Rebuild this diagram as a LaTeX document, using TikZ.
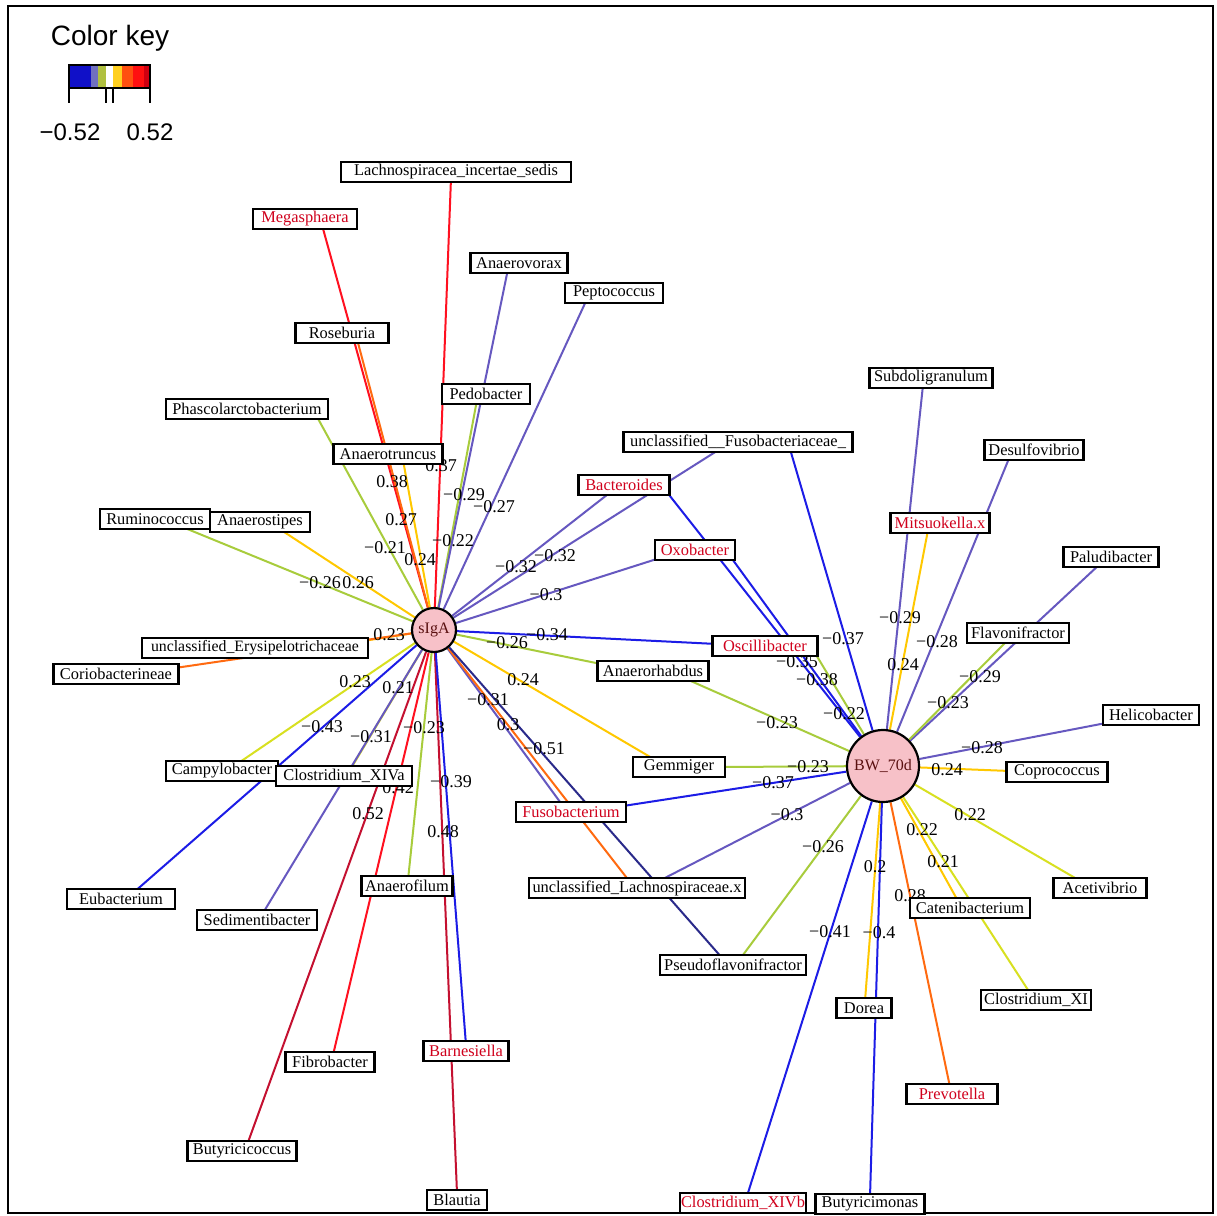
\documentclass[tikz,border=0pt]{standalone}
\usepackage{fontspec}
\setmainfont{Liberation Serif}
\newfontfamily\sansK{Liberation Sans}
\definecolor{cBlu}{HTML}{1C1CE6}
\definecolor{cNav}{HTML}{2A2A8A}
\definecolor{cSla}{HTML}{6658C0}
\definecolor{cOli}{HTML}{A8CC3C}
\definecolor{cLem}{HTML}{D8E020}
\definecolor{cGol}{HTML}{FFC800}
\definecolor{cOra}{HTML}{FF6A10}
\definecolor{cRed}{HTML}{FF1020}
\definecolor{cCri}{HTML}{C41030}
\definecolor{cPink}{HTML}{F7C1C8}
\definecolor{cTxtRed}{HTML}{D0001C}
\definecolor{cHubTxt}{HTML}{5A1010}
\definecolor{k1}{HTML}{1010C8}
\definecolor{k2}{HTML}{7070C0}
\definecolor{k3}{HTML}{B0C040}
\definecolor{k4}{HTML}{FFD020}
\definecolor{k5}{HTML}{FF5010}
\definecolor{k6}{HTML}{FF1010}
\definecolor{k7}{HTML}{D00010}
\pgfdeclarelayer{bglayer}
\pgfdeclarelayer{edgelayer}
\pgfdeclarelayer{labellayer}
\pgfsetlayers{bglayer,edgelayer,labellayer,main}
\tikzset{
 taxon/.style={draw=black, line width=1.1pt, fill=white, inner xsep=0pt, inner ysep=0pt,
   minimum height=9.8pt, font=\fontsize{8.2}{9}\selectfont, text=black},
 tx/.style={taxon, minimum width=#1*0.5pt},
 hot/.style={text=cTxtRed},
 hub/.style={circle, draw=black, line width=1.1pt, fill=cPink, inner sep=0pt,
   font=\fontsize{8}{9}\selectfont, text=cHubTxt},
 lbl/.style={inner sep=0pt, font=\fontsize{9}{10}\selectfont, text=black},
 ed/.style={line width=1pt},
}
\begin{document}
\begin{tikzpicture}[x=0.5pt, y=-0.5pt]
\useasboundingbox (0,0) rectangle (1217,1216);
\begin{pgfonlayer}{bglayer}
\fill[white] (0,0) rectangle (1217,1216);
\end{pgfonlayer}
\draw[line width=1.1pt] (8,6) rectangle (1213,1213);

% ---------- colour key ----------
\node[font=\sansK\fontsize{14}{16}\selectfont] (keytitle) at (110,38) {Color key};
\fill[k1] (69,65) rectangle (91,88);
\fill[k2] (91,65) rectangle (98,88);
\fill[k3] (98,65) rectangle (106,88);
\fill[white] (106,65) rectangle (113,88);
\fill[k4] (113,65) rectangle (122,88);
\fill[k5] (122,65) rectangle (133,88);
\fill[k6] (133,65) rectangle (144,88);
\fill[k7] (144,65) rectangle (150,88);
\draw[line width=0.9pt] (69,65) rectangle (150,88);
\draw[line width=0.9pt] (69,88) -- (69,103) (106,88) -- (106,103) (113,88) -- (113,103) (150,88) -- (150,103);
\node[font=\sansK\fontsize{12}{14}\selectfont] (kmin) at (70,132) {−0.52};
\node[font=\sansK\fontsize{12}{14}\selectfont] (kmax) at (150,132) {0.52};

% ---------- hubs ----------
\node[hub, minimum size=44*0.5pt] (sIgA) at (434,630) {sIgA};
\node[hub, minimum size=72*0.5pt] (BW) at (883,766) {BW\_70d};

% ---------- taxa ----------
\node[tx=230] (lachno) at (456,172) {Lachnospiracea\_incertae\_sedis};
\node[tx=104,hot] (mega) at (305,219) {Megasphaera};
\node[tx=97] (anvor) at (519,263) {Anaerovorax};
\node[tx=98] (pepto) at (614,293) {Peptococcus};
\node[tx=93] (rose) at (342,333) {Roseburia};
\node[tx=88] (pedo) at (486,394) {Pedobacter};
\node[tx=162] (phasc) at (247,409) {Phascolarctobacterium};
\node[tx=109] (anatr) at (388,454) {Anaerotruncus};
\node[tx=229] (fusoc) at (738,442) {unclassified\_\_Fusobacteriaceae\_};
\node[tx=123] (subdo) at (931,378) {Subdoligranulum};
\node[tx=99] (desulf) at (1034,450) {Desulfovibrio};
\node[tx=91,hot] (bacter) at (624,485) {Bacteroides};
\node[tx=110] (rumin) at (155,519) {Ruminococcus};
\node[tx=100] (anstip) at (260,522) {Anaerostipes};
\node[tx=99,hot] (mitsu) at (940,523) {Mitsuokella.x};
\node[tx=80,hot] (oxo) at (695,550) {Oxobacter};
\node[tx=95] (palud) at (1111,557) {Paludibacter};
\node[tx=226,font=\fontsize{7.9}{9}\selectfont] (erysi) at (255,648) {unclassified\_Erysipelotrichaceae};
\node[tx=125] (corio) at (116,674) {Coriobacterineae};
\node[tx=102] (flavo) at (1018,633) {Flavonifractor};
\node[tx=105,hot] (oscil) at (765,646) {Oscillibacter};
\node[tx=111] (anrh) at (653,671) {Anaerorhabdus};
\node[tx=96] (helico) at (1151,715) {Helicobacter};
\node[tx=101] (copro) at (1057,772) {Coprococcus};
\node[tx=112] (campy) at (222,771) {Campylobacter};
\node[tx=136] (xiva) at (344,776) {Clostridium\_XIVa};
\node[tx=92] (gemm) at (679,767) {Gemmiger};
\node[tx=110,hot] (fuso) at (571,812) {Fusobacterium};
\node[tx=108] (eubac) at (121,899) {Eubacterium};
\node[tx=120] (sedi) at (257,920) {Sedimentibacter};
\node[tx=91] (anfil) at (407,886) {Anaerofilum};
\node[tx=216] (lachx) at (637,888) {unclassified\_Lachnospiraceae.x};
\node[tx=93] (aceti) at (1100,888) {Acetivibrio};
\node[tx=120] (caten) at (970,908) {Catenibacterium};
\node[tx=146] (pseudo) at (733,965) {Pseudoflavonifractor};
\node[tx=110] (closxi) at (1036,1000) {Clostridium\_XI};
\node[tx=55] (dorea) at (864,1008) {Dorea};
\node[tx=89] (fibro) at (330,1062) {Fibrobacter};
\node[tx=85,hot] (barn) at (466,1051) {Barnesiella};
\node[tx=91,hot] (prevo) at (952,1094) {Prevotella};
\node[tx=109] (butcoc) at (242,1151) {Butyricicoccus};
\node[tx=60] (blaut) at (457,1200) {Blautia};
\node[tx=126,hot] (xivb) at (743,1203) {Clostridium\_XIVb};
\node[tx=109] (butmon) at (870,1204) {Butyricimonas};

% ---------- edge end points ----------
\coordinate (vs-lachno) at (451,178);
\coordinate (vs-mega) at (322,225);
\coordinate (vs-rose) at (357,339);
\coordinate (vs-anatr) at (403,460);
\coordinate (vs-phasc) at (316,415);
\coordinate (vs-pedo) at (477,400);
\coordinate (vs-anvor) at (508,269);
\coordinate (vs-pepto) at (587,299);
\coordinate (vs-rumin) at (180,526);
\coordinate (vs-anstip) at (278,528);
\coordinate (vs-erysi) at (363,641);
\coordinate (vs-corio) at (175,668);
\coordinate (vs-campy) at (237,764);
\coordinate (vs-eubac) at (133,893);
\coordinate (vs-xiva) at (350,770);
\coordinate (vs-sedi) at (263,913);
\coordinate (vs-anfil) at (408,880);
\coordinate (vs-fibro) at (333,1055);
\coordinate (vs-butcoc) at (247,1145);
\coordinate (vs-blaut) at (457,1193);
\coordinate (vs-barn) at (466,1045);
\coordinate (vs-fuso) at (563,806);
\coordinate (vs-lachx) at (630,882);
\coordinate (vs-pseudo) at (723,959);
\coordinate (vs-gemm) at (657,761);
\coordinate (vs-anrh) at (601,664);
\coordinate (vs-oscil) at (717,644);
\coordinate (vs-oxo) at (663,557);
\coordinate (vs-bacter) at (612,491);
\coordinate (vs-fusoc) at (720,449);

\coordinate (vb-fusoc) at (790,449);
\coordinate (vb-bacter) at (666,491);
\coordinate (vb-oxo) at (730,556);
\coordinate (vb-oscil) at (815,653);
\coordinate (vb-subdo) at (923,385);
\coordinate (vb-mitsu) at (928,530);
\coordinate (vb-desulf) at (1010,456);
\coordinate (vb-palud) at (1100,564);
\coordinate (vb-flavo) at (1008,640);
\coordinate (vb-helico) at (1106,723);
\coordinate (vb-copro) at (1010,771);
\coordinate (vb-aceti) at (1082,882);
\coordinate (vb-caten) at (958,901);
\coordinate (vb-closxi) at (1030,993);
\coordinate (vb-prevo) at (950,1087);
\coordinate (vb-dorea) at (865,1001);
\coordinate (vb-butmon) at (870,1197);
\coordinate (vb-xivb) at (747,1196);
\coordinate (vb-pseudo) at (740,959);
\coordinate (vb-lachx) at (657,882);
\coordinate (vb-fuso) at (623,806);
\coordinate (vb-gemm) at (722,767);
\coordinate (vb-anrh) at (684,678);

% ---------- edges ----------
\begin{pgfonlayer}{edgelayer}
\draw[ed,cRed] (sIgA) -- (vs-lachno);
\draw[ed,cRed] (sIgA) -- (vs-mega);
\draw[ed,cOra] (sIgA) -- (vs-rose);
\draw[ed,cGol] (sIgA) -- (vs-anatr);
\draw[ed,cOli] (sIgA) -- (vs-phasc);
\draw[ed,cOli] (sIgA) -- (vs-pedo);
\draw[ed,cSla] (sIgA) -- (vs-anvor);
\draw[ed,cSla] (sIgA) -- (vs-pepto);
\draw[ed,cOli] (sIgA) -- (vs-rumin);
\draw[ed,cGol] (sIgA) -- (vs-anstip);
\draw[ed,cGol] (sIgA) -- (vs-erysi);
\draw[ed,cOra] (sIgA) -- (vs-corio);
\draw[ed,cLem] (sIgA) -- (vs-campy);
\draw[ed,cBlu] (sIgA) -- (vs-eubac);
\draw[ed,cLem] (sIgA) -- (vs-xiva);
\draw[ed,cSla] (sIgA) -- (vs-sedi);
\draw[ed,cOli] (sIgA) -- (vs-anfil);
\draw[ed,cRed] (sIgA) -- (vs-fibro);
\draw[ed,cCri] (sIgA) -- (vs-butcoc);
\draw[ed,cCri] (sIgA) -- (vs-blaut);
\draw[ed,cBlu] (sIgA) -- (vs-barn);
\draw[ed,cSla] (sIgA) -- (vs-fuso);
\draw[ed,cOra] (sIgA) -- (vs-lachx);
\draw[ed,cNav] (sIgA) -- (vs-pseudo);
\draw[ed,cGol] (sIgA) -- (vs-gemm);
\draw[ed,cOli] (sIgA) -- (vs-anrh);
\draw[ed,cBlu] (sIgA) -- (vs-oscil);
\draw[ed,cSla] (sIgA) -- (vs-oxo);
\draw[ed,cSla] (sIgA) -- (vs-bacter);
\draw[ed,cSla] (sIgA) -- (vs-fusoc);

\draw[ed,cBlu] (BW) -- (vb-fusoc);
\draw[ed,cBlu] (BW) -- (vb-bacter);
\draw[ed,cBlu] (BW) -- (vb-oxo);
\draw[ed,cOli] (BW) -- (vb-oscil);
\draw[ed,cSla] (BW) -- (vb-subdo);
\draw[ed,cGol] (BW) -- (vb-mitsu);
\draw[ed,cSla] (BW) -- (vb-desulf);
\draw[ed,cSla] (BW) -- (vb-palud);
\draw[ed,cOli] (BW) -- (vb-flavo);
\draw[ed,cSla] (BW) -- (vb-helico);
\draw[ed,cGol] (BW) -- (vb-copro);
\draw[ed,cLem] (BW) -- (vb-aceti);
\draw[ed,cGol] (BW) -- (vb-caten);
\draw[ed,cLem] (BW) -- (vb-closxi);
\draw[ed,cOra] (BW) -- (vb-prevo);
\draw[ed,cGol] (BW) -- (vb-dorea);
\draw[ed,cBlu] (BW) -- (vb-butmon);
\draw[ed,cBlu] (BW) -- (vb-xivb);
\draw[ed,cOli] (BW) -- (vb-pseudo);
\draw[ed,cSla] (BW) -- (vb-lachx);
\draw[ed,cBlu] (BW) -- (vb-fuso);
\draw[ed,cOli] (BW) -- (vb-gemm);
\draw[ed,cOli] (BW) -- (vb-anrh);
\end{pgfonlayer}

% ---------- edge labels ----------
\begin{pgfonlayer}{labellayer}
\node[lbl] (ls1) at (441,466) {0.37};
\node[lbl] (ls2) at (392,482) {0.38};
\node[lbl] (ls3) at (401,520) {0.27};
\node[lbl] (ls4) at (420,560) {0.24};
\node[lbl] (ls5) at (385,548) {−0.21};
\node[lbl] (ls6) at (453,541) {−0.22};
\node[lbl] (ls7) at (464,495) {−0.29};
\node[lbl] (ls8) at (494,507) {−0.27};
\node[lbl] (ls9) at (320,583) {−0.26};
\node[lbl] (ls10) at (358,583) {0.26};
\node[lbl] (ls11) at (389,635) {0.23};
\node[lbl] (ls12) at (355,682) {0.23};
\node[lbl] (ls13) at (322,727) {−0.43};
\node[lbl] (ls14) at (398,688) {0.21};
\node[lbl] (ls15) at (371,737) {−0.31};
\node[lbl] (ls16) at (424,728) {−0.23};
\node[lbl] (ls17) at (398,788) {0.42};
\node[lbl] (ls18) at (368,814) {0.52};
\node[lbl] (ls19) at (443,832) {0.48};
\node[lbl] (ls20) at (451,782) {−0.39};
\node[lbl] (ls21) at (488,700) {−0.31};
\node[lbl] (ls22) at (508,725) {0.3};
\node[lbl] (ls23) at (544,749) {−0.51};
\node[lbl] (ls24) at (523,680) {0.24};
\node[lbl] (ls25) at (507,643) {−0.26};
\node[lbl] (ls26) at (547,635) {−0.34};
\node[lbl] (ls27) at (546,595) {−0.3};
\node[lbl] (ls28) at (516,567) {−0.32};
\node[lbl] (ls29) at (555,556) {−0.32};

\node[lbl] (lb1) at (843,639) {−0.37};
\node[lbl] (lb2) at (797,662) {−0.35};
\node[lbl] (lb3) at (817,680) {−0.38};
\node[lbl] (lb4) at (844,714) {−0.22};
\node[lbl] (lb5) at (900,618) {−0.29};
\node[lbl] (lb6) at (903,665) {0.24};
\node[lbl] (lb7) at (937,642) {−0.28};
\node[lbl] (lb8) at (980,677) {−0.29};
\node[lbl] (lb9) at (948,703) {−0.23};
\node[lbl] (lb10) at (982,748) {−0.28};
\node[lbl] (lb11) at (947,770) {0.24};
\node[lbl] (lb12) at (970,815) {0.22};
\node[lbl] (lb13) at (922,830) {0.22};
\node[lbl] (lb14) at (943,862) {0.21};
\node[lbl] (lb15) at (910,896) {0.28};
\node[lbl] (lb16) at (875,867) {0.2};
\node[lbl] (lb17) at (879,933) {−0.4};
\node[lbl] (lb18) at (830,932) {−0.41};
\node[lbl] (lb19) at (823,847) {−0.26};
\node[lbl] (lb20) at (787,815) {−0.3};
\node[lbl] (lb21) at (773,783) {−0.37};
\node[lbl] (lb22) at (808,767) {−0.23};
\node[lbl] (lb23) at (777,723) {−0.23};
\end{pgfonlayer}
\end{tikzpicture}
\end{document}
